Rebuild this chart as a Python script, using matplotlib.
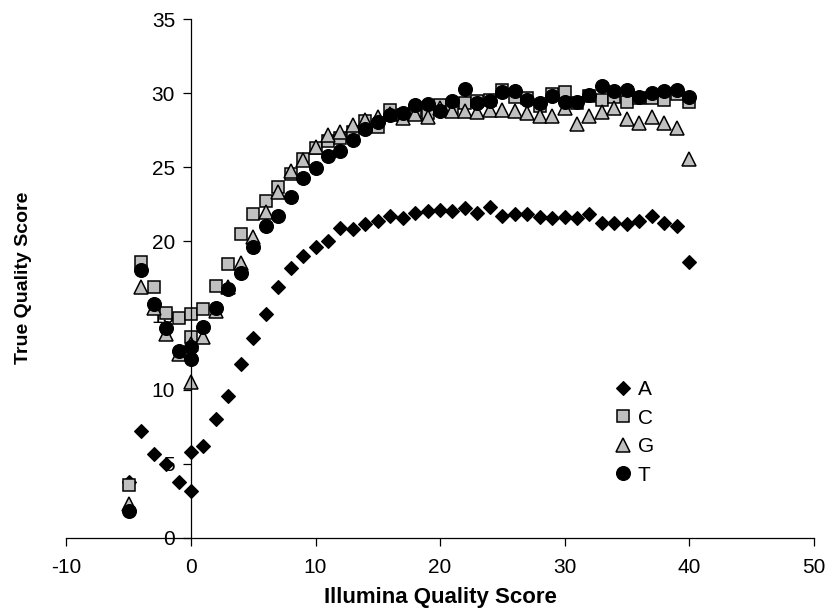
import matplotlib
matplotlib.use("Agg")
import matplotlib.pyplot as plt

plt.rcParams['font.family'] = ['Liberation Sans', 'DejaVu Sans']
plt.rcParams['axes.unicode_minus'] = False

x_vals = [-5, -4, -3, -2, -1, 0, 0, 1, 2, 3, 4, 5, 6, 7, 8, 9, 10, 11, 12, 13, 14,
          15, 16, 17, 18, 19, 20, 21, 22, 23, 24, 25, 26, 27, 28, 29, 30, 31, 32,
          33, 34, 35, 36, 37, 38, 39, 40]

A_vals = [3.75, 7.22, 5.63, 4.97, 3.78, 5.80, 3.17, 6.19, 7.99, 9.56, 11.70, 13.45,
          15.09, 16.9, 18.22, 19.03, 19.64, 20.0, 20.9, 20.83, 21.18, 21.37, 21.73,
          21.55, 21.94, 22.03, 22.08, 22.02, 22.22, 21.91, 22.3, 21.73, 21.84, 21.86,
          21.66, 21.57, 21.66, 21.57, 21.86, 21.26, 21.26, 21.15, 21.37, 21.69, 21.26,
          21.03, 18.58]

C_vals = [3.56, 18.62, 16.94, 15.14, 14.8, 15.07, 13.56, 15.41, 17.0, 18.5, 20.49,
          21.82, 22.72, 23.69, 24.54, 25.53, 26.27, 26.75, 26.97, 27.35, 28.14, 27.7,
          28.83, 28.5, 28.8, 28.64, 29.2, 29.0, 29.35, 29.47, 29.56, 30.21, 29.73,
          29.65, 29.16, 29.93, 30.06, 29.3, 29.8, 29.53, 29.76, 29.38, 29.7, 29.67,
          29.53, 29.92, 29.4]

G_vals = [2.25, 16.94, 15.5, 13.75, 12.4, 13.1, 10.53, 13.56, 15.3, 16.94, 18.56,
          20.27, 21.96, 23.35, 24.76, 25.5, 26.38, 27.2, 27.4, 27.85, 28.2, 28.37,
          28.6, 28.3, 28.58, 28.41, 29.0, 28.8, 28.77, 28.72, 28.84, 28.86, 28.8,
          28.64, 28.46, 28.46, 28.97, 27.9, 28.45, 28.7, 29.02, 28.28, 27.98, 28.37,
          27.96, 27.65, 25.53]

T_vals = [1.8, 18.06, 15.77, 14.13, 12.62, 12.89, 12.04, 14.2, 15.48, 16.75, 17.84,
          19.64, 21.05, 21.7, 23.0, 24.25, 24.97, 25.75, 26.1, 26.83, 27.58, 28.02,
          28.52, 28.64, 29.2, 29.29, 28.8, 29.45, 30.25, 29.31, 29.45, 30.1, 30.14,
          29.53, 29.33, 29.78, 29.37, 29.4, 29.9, 30.49, 30.15, 30.23, 29.76, 29.98,
          30.15, 30.23, 29.76]

x_ticks = [-10, 0, 10, 20, 30, 40, 50]
y_ticks = [0, 5, 10, 15, 20, 25, 30, 35]

fig = plt.figure(figsize=(8.31, 6.13), dpi=100)
ax = fig.add_axes([0.080, 0.1228, 0.899, 0.8462])

gray = '#C0C0C0'
ax.plot(x_vals, A_vals, linestyle='none', marker='D', markersize=7.2,
        markerfacecolor='black', markeredgecolor='black', markeredgewidth=0.8, label='A')
ax.plot(x_vals, C_vals, linestyle='none', marker='s', markersize=9.2,
        markerfacecolor=gray, markeredgecolor='black', markeredgewidth=1.1, label='C')
ax.plot(x_vals, G_vals, linestyle='none', marker='^', markersize=10,
        markerfacecolor=gray, markeredgecolor='black', markeredgewidth=1.1, label='G')
ax.plot(x_vals, T_vals, linestyle='none', marker='o', markersize=10,
        markerfacecolor='black', markeredgecolor='black', markeredgewidth=0.8, label='T')

ax.set_xlim(-10, 50)
ax.set_ylim(0, 35)
ax.set_xticks(x_ticks)
ax.set_yticks(y_ticks)
ax.spines['top'].set_visible(False)
ax.spines['right'].set_visible(False)
ax.spines['left'].set_position(('data', 0))
ax.spines['left'].set_linewidth(0.9)
ax.spines['bottom'].set_linewidth(0.9)
ax.tick_params(axis='both', direction='out', length=5.5, width=0.9, labelsize=15,
               colors='black')
ax.tick_params(axis='x', pad=9)
ax.tick_params(axis='y', pad=6)

fig.text(440 / 831, 1 - 597 / 613, 'Illumina Quality Score', ha='center', va='center',
         fontsize=16, fontweight='bold')
fig.text(23.5 / 831, 1 - 277.5 / 613, 'True Quality Score', ha='center', va='center',
         rotation=90, fontsize=14, fontweight='bold')

leg = ax.legend(loc='upper left', bbox_to_anchor=((615 - 66.5) / 747, 1 - (380 - 19) / 518.7),
                frameon=False, numpoints=1, handlelength=0.8, handletextpad=0.3,
                labelspacing=0.46, fontsize=15, borderpad=0, borderaxespad=0)

fig.savefig('out.png', dpi=100)
